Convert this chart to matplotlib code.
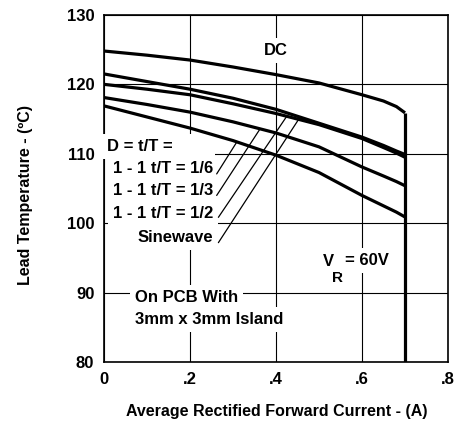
import matplotlib
matplotlib.use("Agg")
import matplotlib.pyplot as plt
import numpy as np

plt.rcParams['font.family'] = ['Liberation Sans', 'DejaVu Sans']
plt.rcParams['font.weight'] = 'bold'

# Average rectified forward current (A)
current = [0, 0.1, 0.2, 0.3, 0.4, 0.5, 0.6, 0.65, 0.68, 0.7]

# Lead temperature (C) for each waveform
temp_dc = [124.8, 124.2, 123.5, 122.5, 121.4, 120.2, 118.5, 117.6, 116.8, 115.9]
temp_sine = [121.5, 120.4, 119.3, 118.0, 116.4, 114.4, 112.4, 111.2, 110.4, 109.9]
temp_half = [120.0, 119.3, 118.5, 117.2, 115.8, 114.2, 112.2, 110.9, 110.1, 109.5]
temp_third = [118.1, 117.1, 116.0, 114.6, 113.0, 111.0, 108.1, 106.8, 106.0, 105.4]
temp_sixth = [116.9, 115.3, 113.7, 111.9, 109.8, 107.3, 104.0, 102.5, 101.6, 100.9]

x_ticks = [0, 0.2, 0.4, 0.6, 0.8]
x_tick_labels = ['0', '.2', '.4', '.6', '.8']
y_ticks = [80, 90, 100, 110, 120, 130]

legend_lines = ['1 - 1 t/T = 1/6', '1 - 1 t/T = 1/3', '1 - 1 t/T = 1/2', 'Sinewave']

fs = 12

fig = plt.figure(figsize=(4.57, 4.26), dpi=100)
ax = fig.add_axes([0.2276, 0.150, 0.7527, 0.815])

ax.set_xlim(x_ticks[0], x_ticks[-1])
ax.set_ylim(y_ticks[0], y_ticks[-1])
ax.set_xticks(x_ticks)
ax.set_xticklabels(x_tick_labels)
ax.set_yticks(y_ticks)
ax.tick_params(length=0, labelsize=fs, pad=7)
for s in ax.spines.values():
    s.set_linewidth(1.2)
ax.set_axisbelow(True)
ax.grid(True, color='black', lw=0.8)

for temps in [temp_dc, temp_sine, temp_half, temp_third, temp_sixth]:
    ax.plot(current, temps, color='black', lw=2.3, solid_capstyle='butt', zorder=4)
# current limit drop
ax.vlines(current[-1], y_ticks[0], temp_dc[-1], color='black', lw=2.3, zorder=4)

box = dict(boxstyle='square,pad=0.3', facecolor='white', edgecolor='none')

ax.text(0.4, 124.9, 'DC', ha='center', va='center', fontsize=fs, bbox=box)

ax.text(0.007, 111.0, 'D = t/T =        ', ha='left', va='center', fontsize=fs, bbox=box)
label_y = [107.9, 104.7, 101.4, 98.0]
for txt, ly in zip(legend_lines, label_y):
    ax.text(0.2535, ly, txt, ha='right', va='center', fontsize=fs, bbox=box)

# leader lines from labels to curves
leaders = [(0.262, 107.1, 0.309, temp_sixth),
           (0.262, 104.0, 0.363, temp_third),
           (0.266, 100.85, 0.425, temp_half),
           (0.266, 97.2, 0.456, temp_sine)]
for xs, ys, xe, temps in leaders:
    ax.annotate('', xy=(xe, np.interp(xe, current, temps)), xytext=(xs, ys),
                arrowprops=dict(arrowstyle='-', lw=0.9, color='black',
                                shrinkA=0, shrinkB=0), zorder=5)

ax.text(0.072, 89.3, 'On PCB With', ha='left', va='center', fontsize=fs, bbox=box)
ax.text(0.072, 86.1, '3mm x 3mm Island', ha='left', va='center', fontsize=fs, bbox=box)

ax.text(0.509, 94.45, 'V', ha='left', va='center', fontsize=fs, bbox=box)
ax.text(0.530, 92.1, 'R', ha='left', va='center', fontsize=fs - 1, bbox=box)
ax.text(0.560, 94.6, '= 60V', ha='left', va='center', fontsize=fs, bbox=box)

ax.set_xlabel('Average Rectified Forward Current - (A)', fontsize=11.5, fontweight='bold')
ax.set_ylabel('Lead Temperature - (ºC)', fontsize=11.5, fontweight='bold')
ax.xaxis.set_label_coords(0.503, -0.12)
ax.yaxis.set_label_coords(-0.205, 0.48)

fig.savefig('out.png', dpi=100)
